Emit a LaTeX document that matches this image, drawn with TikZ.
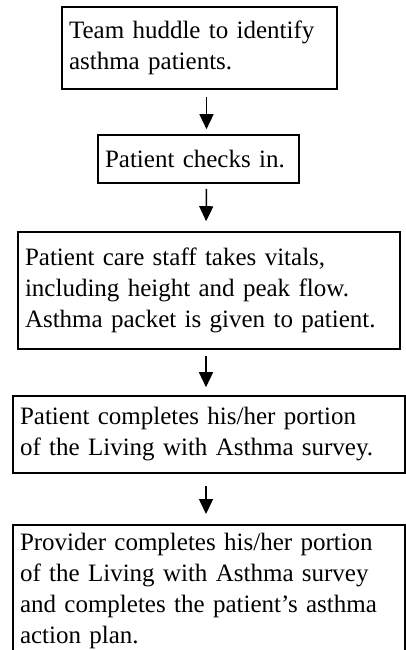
\documentclass[tikz,border=0pt]{standalone}
\usepackage{fontspec}
\setmainfont{Liberation Serif}
\usetikzlibrary{arrows.meta,positioning}
\hyphenpenalty=10000

\begin{document}
\begin{tikzpicture}[x=1pt,y=1pt,
    stepbox/.style={draw, line width=1.6pt, align=left, inner xsep=7pt, inner ysep=0pt,
        font=\fontsize{25}{31}\selectfont},
    flowarrow/.style={-{Triangle[width=14pt,length=15pt]}, line width=1.5pt}]
    \useasboundingbox (0,0) rectangle (406,-650);
    \node[stepbox, text width=261, minimum height=82] (huddle) at (199.5,-48)
        {Team huddle to identify\\asthma patients.};
    \node[stepbox, text width=187, minimum height=48] (checkin) at (198.5,-159)
        {Patient checks in.};
    \node[stepbox, text width=368, minimum height=117] (vitals) at (209,-290.5)
        {Patient care staff takes vitals,\\including height and peak flow.\\Asthma packet is given to patient.};
    \node[stepbox, text width=378, minimum height=77] (survey) at (209,-434.5)
        {Patient completes his/her portion\\of the Living with Asthma survey.};
    % last box runs past the bottom edge
    \node[stepbox, text width=378, anchor=north, inner ysep=8pt] (provider) at (209,-524)
        {Provider completes his/her portion\\of the Living with Asthma survey\\and completes the patient's asthma\\action plan.\rule[-40pt]{0pt}{0pt}};
    \draw[flowarrow, shorten <=7pt, shorten >=5pt] ([xshift=7]huddle.south) -- ([xshift=8]checkin.north);
    \draw[flowarrow, shorten <=5pt, shorten >=10pt] ([xshift=8]checkin.south) -- ([xshift=-3]vitals.north);
    \draw[flowarrow, shorten <=6pt, shorten >=8pt] ([xshift=-3]vitals.south) -- ([xshift=-3]survey.north);
    \draw[flowarrow, shorten <=12pt, shorten >=10pt] ([xshift=-3]survey.south) -- ([xshift=-3]provider.north);
\end{tikzpicture}
\end{document}
